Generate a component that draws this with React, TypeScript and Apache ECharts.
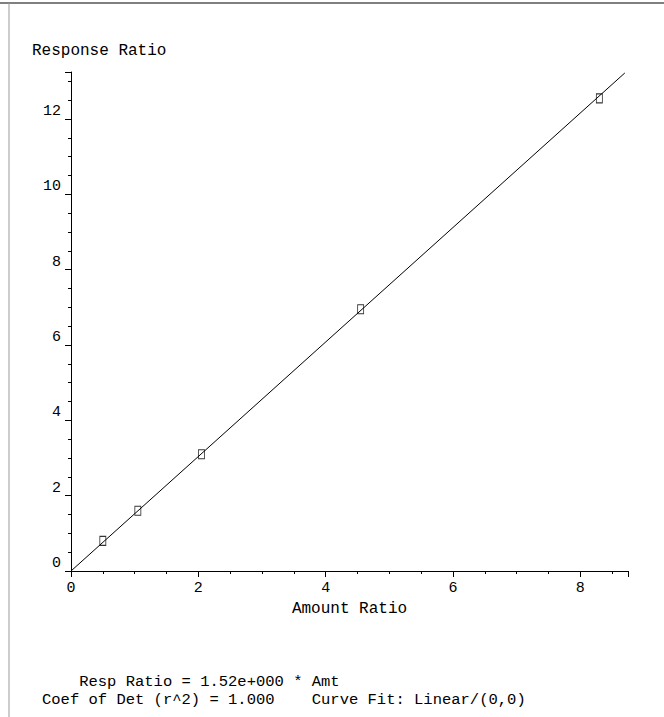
import { useEffect, useRef } from 'react';
import * as echarts from 'echarts';

const amountRatio = [0.5, 1.05, 2.05, 4.55, 8.3];
const responseRatio = [0.8, 1.6, 3.1, 6.95, 12.55];
const slope = 1.52;
const fitEnd = 8.7;
const footerLines = [
  '    Resp Ratio = 1.52e+000 * Amt',
  'Coef of Det (r^2) = 1.000    Curve Fit: Linear/(0,0)',
];

const mono = "'Liberation Mono', 'DejaVu Sans Mono', monospace";

export default function App() {
  const ref = useRef<HTMLDivElement>(null);

  useEffect(() => {
    document.body.style.margin = '0';
    if (!ref.current) return;
    const chart = echarts.init(ref.current, undefined, { renderer: 'svg' });
    const axisCommon = {
      type: 'value' as const,
      axisLine: { show: true, onZero: false, lineStyle: { color: '#000', width: 1 } },
      axisTick: { show: true, inside: false, length: 6, lineStyle: { color: '#000' } },
      minorTick: { show: true, splitNumber: 4, length: 3, lineStyle: { color: '#000' } },
      splitLine: { show: false },
      axisLabel: { color: '#000', fontFamily: mono, fontSize: 15 },
    };
    chart.setOption({
      animation: false,
      backgroundColor: '#fff',
      grid: { left: 71, right: 36, top: 72, bottom: 146 },
      xAxis: {
        ...axisCommon,
        min: 0,
        max: 8.75,
        interval: 2,
        name: 'Amount Ratio',
        nameLocation: 'middle',
        nameGap: 27,
        nameTextStyle: { color: '#000', fontFamily: mono, fontSize: 16 },
        axisLabel: { ...axisCommon.axisLabel, showMaxLabel: false, margin: 10 },
      },
      yAxis: {
        ...axisCommon,
        min: 0,
        max: 13.25,
        interval: 2,
        axisLabel: { ...axisCommon.axisLabel, showMaxLabel: false, margin: 10, verticalAlign: 'bottom' },
      },
      series: [
        {
          type: 'line',
          data: [[0, 0], [fitEnd, slope * fitEnd]],
          symbol: 'none',
          lineStyle: { color: '#000', width: 1 },
        },
        {
          type: 'scatter',
          data: amountRatio.map((x, i) => [x, responseRatio[i]]),
          symbol: 'rect',
          symbolSize: [6, 9],
          itemStyle: { color: '#fff', borderColor: '#000', borderWidth: 1 },
        },
      ],
      graphic: [
        { type: 'line', shape: { x1: 0, y1: 3, x2: 664, y2: 3 }, style: { stroke: '#000', lineWidth: 1 } },
        { type: 'line', shape: { x1: 9, y1: 3, x2: 9, y2: 717 }, style: { stroke: '#999', lineWidth: 1 } },
        {
          type: 'text',
          left: 32,
          top: 43,
          style: { text: 'Response Ratio', fill: '#000', font: `16px ${mono}` },
        },
        {
          type: 'text',
          left: 42,
          top: 673,
          style: { text: footerLines.join('\n'), fill: '#000', font: `15.5px ${mono}`, lineHeight: 18 },
        },
      ],
    });
    return () => chart.dispose();
  }, []);

  return <div ref={ref} style={{ width: 664, height: 717 }} />;
}
